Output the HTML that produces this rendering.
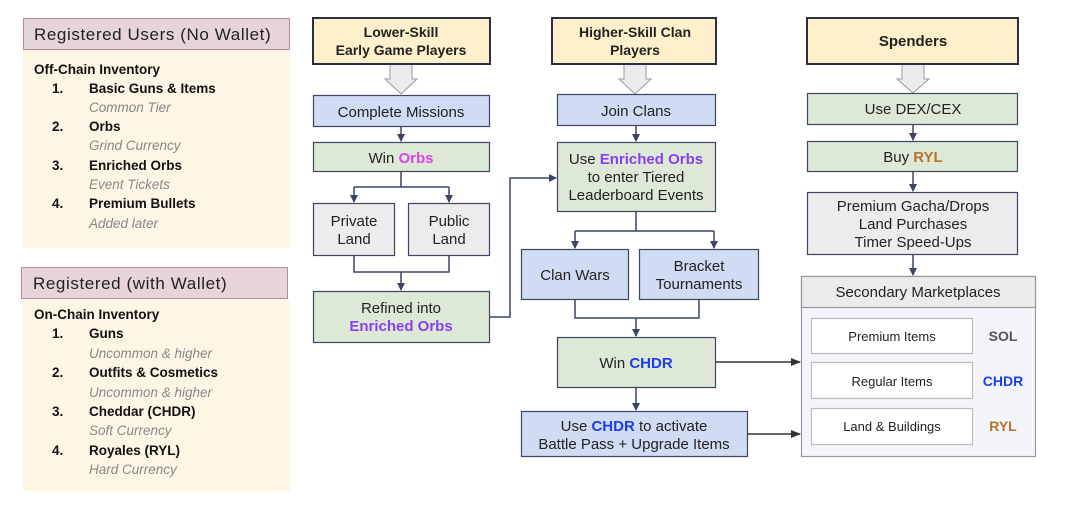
<!DOCTYPE html>
<html><head><meta charset="utf-8"><style>
html,body{margin:0;padding:0;background:#fff;width:1080px;height:510px;overflow:hidden}
svg{display:block;font-family:"Liberation Sans",sans-serif}
</style></head><body>
<svg width="1080" height="510" viewBox="0 0 1080 510" xmlns="http://www.w3.org/2000/svg">
<defs>
<marker id="a" markerWidth="8" markerHeight="8" refX="7" refY="4" orient="auto" markerUnits="userSpaceOnUse"><path d="M0,0 L8,4 L0,8 z" fill="#3d4466"/></marker>
<marker id="b" markerWidth="10" markerHeight="8" refX="9" refY="4" orient="auto" markerUnits="userSpaceOnUse"><path d="M0,0 L10,4 L0,8 z" fill="#333"/></marker>
</defs>
<!-- Left panels -->
<rect x="23" y="49" width="267" height="199" fill="#fdf6e4"/>
<rect x="23.5" y="18.5" width="266" height="31" fill="#e6d3dc" stroke="#b88aa0"/>
<text x="34" y="40" font-size="17" letter-spacing="0.6" fill="#222">Registered Users (No Wallet)</text>
<g font-size="13.5" fill="#111">
<text x="34" y="74" font-weight="bold">Off-Chain Inventory</text>
<text x="52" y="93" font-weight="bold">1.</text><text x="89" y="93" font-weight="bold">Basic Guns &amp; Items</text>
<text x="89" y="112" font-style="italic" fill="#888">Common Tier</text>
<text x="52" y="131" font-weight="bold">2.</text><text x="89" y="131" font-weight="bold">Orbs</text>
<text x="89" y="150" font-style="italic" fill="#888">Grind Currency</text>
<text x="52" y="170" font-weight="bold">3.</text><text x="89" y="170" font-weight="bold">Enriched Orbs</text>
<text x="89" y="189" font-style="italic" fill="#888">Event Tickets</text>
<text x="52" y="208" font-weight="bold">4.</text><text x="89" y="208" font-weight="bold">Premium Bullets</text>
<text x="89" y="228" font-style="italic" fill="#888">Added later</text>
</g>
<rect x="23" y="298" width="267" height="193" fill="#fdf6e4"/>
<rect x="21.5" y="267.5" width="266" height="31" fill="#e6d3dc" stroke="#b88aa0"/>
<text x="33" y="289" font-size="17" letter-spacing="0.6" fill="#222">Registered (with Wallet)</text>
<g font-size="13.5" fill="#111">
<text x="34" y="319" font-weight="bold">On-Chain Inventory</text>
<text x="52" y="338" font-weight="bold">1.</text><text x="89" y="338" font-weight="bold">Guns</text>
<text x="89" y="358" font-style="italic" fill="#888">Uncommon &amp; higher</text>
<text x="52" y="377" font-weight="bold">2.</text><text x="89" y="377" font-weight="bold">Outfits &amp; Cosmetics</text>
<text x="89" y="397" font-style="italic" fill="#888">Uncommon &amp; higher</text>
<text x="52" y="416" font-weight="bold">3.</text><text x="89" y="416" font-weight="bold">Cheddar (CHDR)</text>
<text x="89" y="435" font-style="italic" fill="#888">Soft Currency</text>
<text x="52" y="455" font-weight="bold">4.</text><text x="89" y="455" font-weight="bold">Royales (RYL)</text>
<text x="89" y="474" font-style="italic" fill="#888">Hard Currency</text>
</g>

<!-- connectors -->
<g stroke="#3d4466" stroke-width="1.5" fill="none">
<line x1="401" y1="127" x2="401" y2="141" marker-end="url(#a)"/>
<path d="M401 172 V187 M354 187 H449 M354 187 V202" marker-end="url(#a)"/>
<line x1="449" y1="187" x2="449" y2="202" marker-end="url(#a)"/>
<path d="M354 256 V272 H449 V256 M401 272 V290" marker-end="url(#a)"/>
<path d="M490 317 H510 V178 H556" marker-end="url(#a)"/>
<line x1="636" y1="126" x2="636" y2="141" marker-end="url(#a)"/>
<path d="M636 212 V231 M575 231 H714 M575 231 V248" marker-end="url(#a)"/>
<line x1="714" y1="231" x2="714" y2="248" marker-end="url(#a)"/>
<path d="M575 300 V318 H699 V300 M636 318 V336" marker-end="url(#a)"/>
<line x1="636" y1="388" x2="636" y2="410" marker-end="url(#a)"/>
<line x1="913" y1="125" x2="913" y2="140" marker-end="url(#a)"/>
<line x1="913" y1="172" x2="913" y2="191" marker-end="url(#a)"/>
<line x1="913" y1="255" x2="913" y2="275" marker-end="url(#a)"/>
</g>
<g stroke="#333" stroke-width="1.5">
<line x1="716" y1="362" x2="800" y2="362" marker-end="url(#b)"/>
<line x1="748" y1="434" x2="800" y2="434" marker-end="url(#b)"/>
</g>

<!-- hollow arrows -->
<g fill="#ebebeb" stroke="#999" stroke-width="1">
<path d="M390 64 V79 H385 L401 94 L417 79 H412 V64 Z"/>
<path d="M624 64 V79 H619 L635 94 L651 79 H646 V64 Z"/>
<path d="M902 64 V79 H897 L913 93 L929 79 H924 V64 Z"/>
</g>

<!-- Column 1 -->
<g stroke="#3d4466" stroke-width="1.2">
<rect x="313" y="18" width="177" height="46" fill="#fdf0cb" stroke="#2c2f44" stroke-width="2"/>
<rect x="313.5" y="95.5" width="176" height="31" fill="#cfdcf3"/>
<rect x="313.5" y="142.5" width="176" height="29" fill="#dde9d6"/>
<rect x="313.5" y="203.5" width="81" height="52" fill="#ececec"/>
<rect x="408.5" y="203.5" width="81" height="52" fill="#ececec"/>
<rect x="313.5" y="291.5" width="176" height="51" fill="#dde9d6"/>
</g>
<g font-size="14" fill="#222" text-anchor="middle">
<text x="401" y="37" font-weight="bold">Lower-Skill</text>
<text x="401" y="55" font-weight="bold">Early Game Players</text>
<text x="401" y="117" font-size="15">Complete Missions</text>
<text x="401" y="163" font-size="15">Win <tspan fill="#dd44ee" font-weight="bold">Orbs</tspan></text>
<text x="354" y="226" font-size="15">Private</text><text x="354" y="244" font-size="15">Land</text>
<text x="449" y="226" font-size="15">Public</text><text x="449" y="244" font-size="15">Land</text>
<text x="401" y="313" font-size="15">Refined into</text>
<text x="401" y="331" font-size="15" font-weight="bold" fill="#8a3ef0">Enriched Orbs</text>
</g>

<!-- Column 2 -->
<g stroke="#3d4466" stroke-width="1.2">
<rect x="552" y="18" width="164" height="46" fill="#fdf0cb" stroke="#2c2f44" stroke-width="2"/>
<rect x="557.5" y="94.5" width="158" height="31" fill="#cfdcf3"/>
<rect x="557.5" y="142.5" width="158" height="69" fill="#dde9d6"/>
<rect x="521.5" y="249.5" width="107" height="50" fill="#cfdcf3"/>
<rect x="639.5" y="249.5" width="119" height="50" fill="#cfdcf3"/>
<rect x="557.5" y="337.5" width="158" height="50" fill="#dde9d6"/>
<rect x="521.5" y="411.5" width="226" height="45" fill="#cfdcf3"/>
</g>
<g font-size="14" fill="#222" text-anchor="middle">
<text x="635" y="37" font-weight="bold">Higher-Skill Clan</text>
<text x="635" y="55" font-weight="bold">Players</text>
<text x="636" y="116" font-size="15">Join Clans</text>
<text x="636" y="164" font-size="15">Use <tspan fill="#8a3ef0" font-weight="bold">Enriched Orbs</tspan></text>
<text x="636" y="182" font-size="15">to enter Tiered</text>
<text x="636" y="200" font-size="15">Leaderboard Events</text>
<text x="575" y="280" font-size="15">Clan Wars</text>
<text x="699" y="271" font-size="15">Bracket</text>
<text x="699" y="289" font-size="15">Tournaments</text>
<text x="636" y="368" font-size="15">Win <tspan fill="#1a3ef0" font-weight="bold">CHDR</tspan></text>
<text x="634" y="431" font-size="15">Use <tspan fill="#1a3ef0" font-weight="bold">CHDR</tspan> to activate</text>
<text x="634" y="449" font-size="15">Battle Pass + Upgrade Items</text>
</g>

<!-- Column 3 -->
<g stroke="#3d4466" stroke-width="1.2">
<rect x="807" y="18" width="211" height="46" fill="#fdf0cb" stroke="#2c2f44" stroke-width="2"/>
<rect x="807.5" y="93.5" width="210" height="31" fill="#dde9d6"/>
<rect x="807.5" y="141.5" width="210" height="30" fill="#dde9d6"/>
<rect x="807.5" y="192.5" width="210" height="62" fill="#ececec"/>
</g>
<rect x="801.5" y="276.5" width="234" height="180" fill="#f3f5fb" stroke="#999" stroke-width="1.2"/>
<rect x="801.5" y="276.5" width="234" height="31" fill="#ebebeb" stroke="#999" stroke-width="1.2"/>
<g fill="#fff" stroke="#bbb" stroke-width="1.2">
<rect x="811.5" y="318.5" width="161" height="35"/>
<rect x="811.5" y="362.5" width="161" height="36"/>
<rect x="811.5" y="408.5" width="161" height="36"/>
</g>
<g font-size="14" fill="#222" text-anchor="middle">
<text x="913" y="46" font-weight="bold" font-size="15">Spenders</text>
<text x="913" y="114" font-size="15">Use DEX/CEX</text>
<text x="913" y="162" font-size="15">Buy <tspan fill="#b8702a" font-weight="bold">RYL</tspan></text>
<text x="913" y="211" font-size="15">Premium Gacha/Drops</text>
<text x="913" y="229" font-size="15">Land Purchases</text>
<text x="913" y="247" font-size="15">Timer Speed-Ups</text>
<text x="918" y="297" font-size="15">Secondary Marketplaces</text>
<text x="892" y="341" font-size="13">Premium Items</text>
<text x="892" y="386" font-size="13">Regular Items</text>
<text x="892" y="431" font-size="13">Land &amp; Buildings</text>
<text x="1003" y="341" font-weight="bold" fill="#555">SOL</text>
<text x="1003" y="386" font-weight="bold" fill="#1a3ef0">CHDR</text>
<text x="1003" y="431" font-weight="bold" fill="#b8702a">RYL</text>
</g>
</svg>
</body></html>
